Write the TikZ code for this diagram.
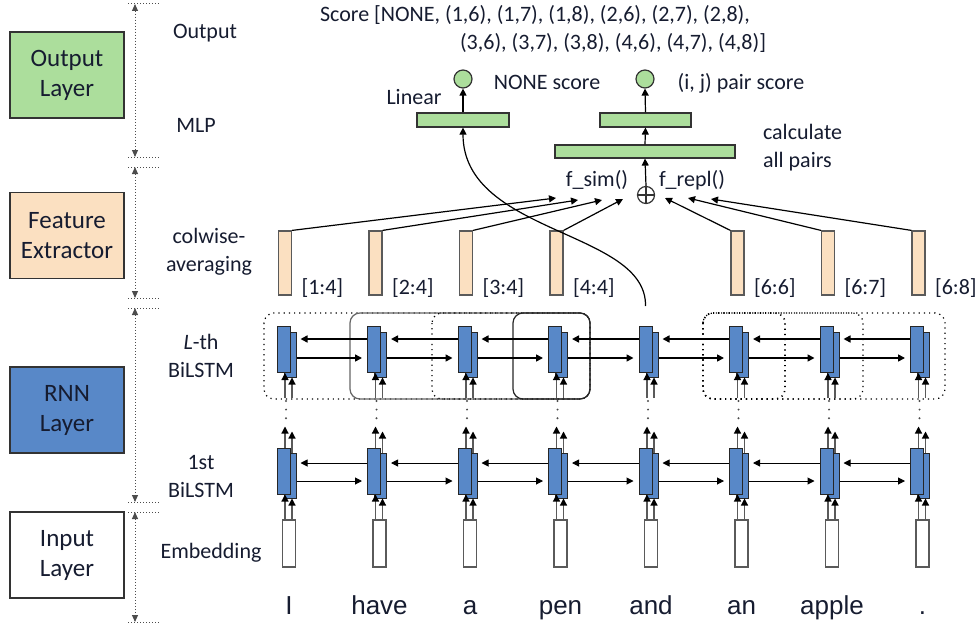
\documentclass[tikz,border=0pt]{standalone}
\usepackage{fontspec}
\setmainfont{Carlito}
\newfontfamily\wordfont{Liberation Sans}
\usetikzlibrary{arrows.meta,calc,positioning}

\definecolor{outgreen}{RGB}{172,222,156}
\definecolor{featpeach}{RGB}{251,224,193}
\definecolor{rnnblue}{RGB}{88,136,200}
\definecolor{txtc}{RGB}{22,28,48}
\definecolor{linegray}{RGB}{90,90,90}

\tikzset{
  arr/.style={-{Triangle[length=3.5pt,width=3.5pt]}},
  feed/.style={-{Triangle[length=3.5pt,width=3.5pt,color=black]}, draw=linegray, line width=0.6pt},
  layerbox/.style={draw=black!80, line width=0.6pt, minimum width=57pt, minimum height=43pt,
    align=center, font=\fontsize{12.5}{15}\selectfont, text=txtc},
  tag/.style={align=center, font=\fontsize{11}{14}\selectfont, text=txtc},
  lstmf/.style={draw=black!85, fill=rnnblue, line width=0.5pt, minimum width=6.5pt,
    minimum height=23pt, inner sep=0pt},
  lstmb/.style={draw=black!85, fill=rnnblue, line width=0.5pt, minimum width=6pt,
    minimum height=22.5pt, inner sep=0pt},
  embbox/.style={draw=linegray, fill=white, line width=0.6pt, minimum width=6.5pt,
    minimum height=23.5pt, inner sep=0pt},
  featbox/.style={draw=linegray, fill=featpeach, line width=0.6pt, minimum width=6.5pt,
    minimum height=32pt, inner sep=0pt},
  mlpbox/.style={draw=black!80, fill=outgreen, line width=0.6pt, inner sep=0pt, minimum height=7pt},
  scorenode/.style={circle, draw=black!80, fill=outgreen, line width=0.6pt, minimum size=9pt, inner sep=0pt},
  spanbox/.style={rounded corners=5pt, line width=0.6pt},
  word/.style={font=\wordfont\fontsize{13}{15}\selectfont, text=txtc, anchor=base},
  marker/.style={densely dotted, line width=0.5pt, draw=black!70},
}

\begin{document}
\begin{tikzpicture}[x=0.5pt, y=-0.5pt]
\useasboundingbox (0,0) rectangle (979,626);

% layers on the left
\node[layerbox, fill=outgreen] (outLayer) at (67,75) {Output\\Layer};
\node[layerbox, fill=featpeach] (featLayer) at (67,235.5) {Feature\\Extractor};
\node[layerbox, fill=rnnblue] (rnnLayer) at (67,410) {RNN\\Layer};
\node[layerbox, fill=white] (inLayer) at (67,555) {Input\\Layer};

\foreach \ya/\yb in {4/157, 167/298, 308/502, 512/622} {
  \draw[marker] (128,\ya) -- (161,\ya) (128,\yb) -- (161,\yb);
  \draw[marker, {Triangle[length=3.5pt,width=3pt]}-{Triangle[length=3.5pt,width=3pt]}]
    (135,\ya) -- (135,\yb);
}

\node[tag] (tOut) at (205,33) {Output};
\node[tag] (tMlp) at (196,125) {MLP};
\node[tag] (tAvg) at (209,252) {colwise-\\averaging};
\node[tag] (tLth) at (201,356) {\textit{L}-th\\BiLSTM};
\node[tag] (tFirst) at (201,476) {1st\\BiLSTM};
\node[tag] (tEmb) at (211,553) {Embedding};

% spans over the L-th BiLSTM
\draw[spanbox, dotted] (264,313) rectangle (590,399);
\draw[spanbox, draw=black!60] (350,313) rectangle (590,399);
\draw[spanbox, dotted] (432,313) rectangle (590,399);
\draw[spanbox, draw=black!85] (513,313) rectangle (590,399);
\draw[spanbox, dotted, line width=0.8pt] (703,313) rectangle (785,399);
\draw[spanbox, dotted] (703,313) rectangle (863,399);
\draw[spanbox, dotted] (703,313) rectangle (945,399);

% word columns
\foreach \i/\w in {1/I, 2/have, 3/a, 4/pen, 5/and, 6/an, 7/apple, 8/.} {
  \pgfmathsetmacro\c{289+90.5*(\i-1)}
  \node[embbox] (e\i) at (\c,543.5) {};
  \node[word] (w\i) at (\c,614) {\w};
  \node[lstmb] (b1\i) at (\c+1,475.5) {};
  \node[lstmf] (f1\i) at (\c-5.5,471) {};
  \node[lstmb] (bL\i) at (\c+1,354.5) {};
  \node[lstmf] (fL\i) at (\c-5.5,349.5) {};
  \draw[feed] (\c-4,0 |- e\i.north) -- (\c-4,0 |- f1\i.south);
  \draw[feed] (\c+3,0 |- e\i.north) -- (\c+3,0 |- b1\i.south);
  \draw[feed] (\c-4,0 |- f1\i.north) -- ++(0,-21);
  \draw[feed] (\c+3,0 |- b1\i.north) -- ++(0,-21);
  \draw[line width=1.1pt, line cap=round, dash pattern=on 0pt off 4.3pt, black!70]
    (\c-3,401) -- (\c-3,420);
  \draw[feed] (\c-4,398) -- (\c-4,0 |- fL\i.south);
  \draw[feed] (\c+3,398) -- (\c+3,0 |- bL\i.south);
}

% recurrent connections
\foreach \i in {1,...,7} {
  \pgfmathtruncatemacro\j{\i+1}
  \draw[arr, line width=0.5pt] (f1\j.west |- 0,463) -- ($(b1\i.east |- 0,463)+(4,0)$);
  \draw[arr, line width=0.5pt] (b1\i.east |- 0,481) -- ($(f1\j.west |- 0,481)+(-5,0)$);
  \draw[arr, line width=0.8pt] (fL\j.west |- 0,339) -- ($(bL\i.east |- 0,339)+(4,0)$);
  \draw[arr, line width=0.8pt] (bL\i.east |- 0,358) -- ($(fL\j.west |- 0,358)+(-5,0)$);
}

% colwise-averaged features
\foreach \i/\lab in {1/{[1:4]}, 2/{[2:4]}, 3/{[3:4]}, 4/{[4:4]}, 6/{[6:6]}, 7/{[6:7]}, 8/{[6:8]}} {
  \pgfmathsetmacro\c{289+90.5*(\i-1)}
  \node[featbox] (feat\i) at (\c-4,263) {};
  \node[tag, anchor=base west, inner sep=1pt] (lab\i) at ([xshift=3.5pt,yshift=0.5pt]feat\i.south east) {\lab};
}

% output layer
\node[mlpbox, minimum width=46pt] (lin) at (463,120) {};
\node[mlpbox, minimum width=45.5pt] (pairMlp) at (645.5,120) {};
\node[mlpbox, minimum width=90pt, minimum height=6.5pt] (allPairs) at (645,151.5) {};
\node[scorenode] (noneScore) at (463,79) {};
\node[scorenode] (pairScore) at (645,79) {};
\node[circle, draw=black!80, line width=0.6pt, minimum size=8.5pt, inner sep=0pt] (oplus) at (646,195) {};
\draw[line width=0.6pt, black!80] (oplus.north) -- (oplus.south) (oplus.west) -- (oplus.east);

\draw[arr, line width=0.6pt] (lin.north) -- (noneScore.south);
\draw[arr, line width=0.6pt] (pairMlp.north) -- (pairScore.south);
\draw[arr, line width=0.6pt] (allPairs.north) -- (pairMlp.south);
\draw[arr, line width=0.6pt] (oplus.north) -- (allPairs.south);

\coordinate (sim1) at (556,198);
\coordinate (sim2) at (578,200);
\coordinate (sim3) at (602,200);
\coordinate (sim4) at (623,199);
\coordinate (repl6) at (665,198);
\coordinate (repl7) at (688,198);
\coordinate (repl8) at (711,199);
\foreach \i in {1,2,3,4} \draw[arr, line width=0.6pt] (feat\i.north east) -- (sim\i);
\foreach \i in {6,7,8} \draw[arr, line width=0.6pt] (feat\i.north west) -- (repl\i);

\draw[arr, line width=0.6pt] ([yshift=10pt]fL5.north) .. controls (647,230) and (463,235) .. (lin.south);

\node[tag] (linLab) at (414,97) {Linear};
\node[tag] (noneLab) at (547,82) {NONE score};
\node[tag] (pairLab) at (741,83) {(i, j) pair score};
\node[tag] (simLab) at (597,180) {f\_sim()};
\node[tag] (replLab) at (692,180) {f\_repl()};
\node[tag, align=left, anchor=west] (allLab) at (756,147.5) {calculate\\all pairs};
\node[tag, anchor=west] (scoreA) at (313,15) {Score [NONE, (1,6), (1,7), (1,8), (2,6), (2,7), (2,8),};
\node[tag, anchor=west] (scoreB) at (453,43) {(3,6), (3,7), (3,8), (4,6), (4,7), (4,8)]};
\end{tikzpicture}
\end{document}
